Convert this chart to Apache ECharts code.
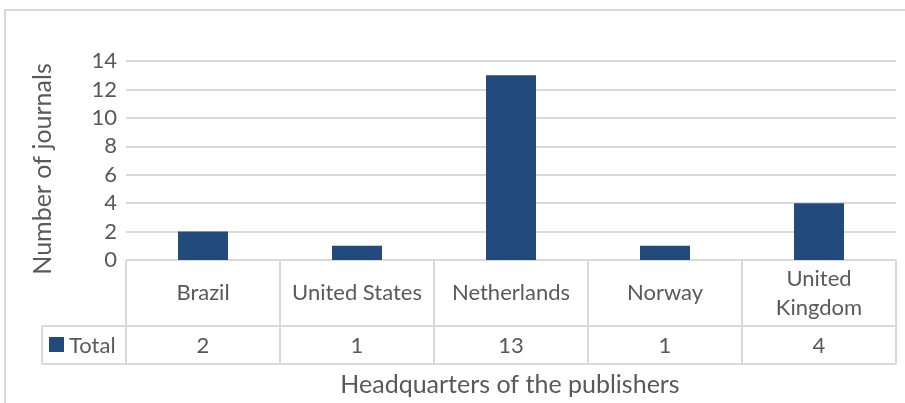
<!DOCTYPE html>
<html>
<head>
<meta charset="utf-8">
<script src="https://cdn.jsdelivr.net/npm/echarts@6/dist/echarts.min.js"></script>
<style>html,body{margin:0;padding:0;background:#fff}#c{width:905px;height:403px}</style>
</head>
<body>
<div id="c"></div>
<script>
const categories = ['Brazil', 'United States', 'Netherlands', 'Norway', 'United Kingdom'];
const totals = [2, 1, 13, 1, 4];
const seriesName = 'Total';
const yTitle = 'Number of journals';
const xTitle = 'Headquarters of the publishers';

const FONT = 'Lato';
const TXT = '#595959';
const LINE = '#d9d9d9';
const BAR = '#224a7c';
const FS = 22;
const TFS = 25;

const chart = echarts.init(document.getElementById('c'), null, {renderer: 'canvas'});
const gridLeft = 126, gridRight = 9, gridTop = 61, gridBottom = 143;

chart.setOption({
  animation: false,
  grid: {left: gridLeft, right: gridRight, top: gridTop, bottom: gridBottom, containLabel: false},
  xAxis: {
    type: 'category',
    data: categories,
    axisLine: {show: false},
    axisTick: {show: false},
    axisLabel: {
      interval: 0, hideOverlap: false,
      margin: 33, padding: [0,0,0,0],
      color: TXT, fontFamily: FONT, fontSize: FS, lineHeight: 29,
      verticalAlign: 'middle',
      formatter: v => v.length > 13 ? v.replace(' ', '\n') : v
    }
  },
  yAxis: {
    type: 'value', min: 0, max: 14, interval: 2,
    axisLine: {show: false}, axisTick: {show: false},
    axisLabel: {color: TXT, fontFamily: FONT, fontSize: FS, margin: 9},
    splitLine: {lineStyle: {color: LINE, width: 2}}
  },
  series: [{
    name: seriesName, type: 'bar', data: totals, barWidth: 50,
    itemStyle: {color: BAR}
  }]
});

function drawTable() {
  const n = categories.length;
  const c0 = chart.convertToPixel({xAxisIndex: 0}, 0);
  const c1 = chart.convertToPixel({xAxisIndex: 0}, 1);
  const bw = c1 - c0;
  const y0 = chart.convertToPixel({yAxisIndex: 0}, 0);
  const rowMid = y0 + 66;
  const rowBot = rowMid + 38;
  const leftX = gridLeft - 84;
  const rightX = c0 - bw / 2 + bw * n;
  const els = [];
  const ls = {stroke: LINE, lineWidth: 2};
  els.push({type: 'rect', shape: {x: 5, y: 10, width: 920, height: 420}, style: {fill: null, stroke: LINE, lineWidth: 2}, silent: true});
  els.push({type: 'line', shape: {x1: gridLeft, y1: y0, x2: rightX, y2: y0}, style: ls});
  els.push({type: 'line', shape: {x1: leftX, y1: rowMid, x2: rightX, y2: rowMid}, style: ls});
  els.push({type: 'line', shape: {x1: leftX, y1: rowBot, x2: rightX, y2: rowBot}, style: ls});
  els.push({type: 'line', shape: {x1: leftX, y1: rowMid, x2: leftX, y2: rowBot}, style: ls});
  for (let i = 0; i <= n; i++) {
    const x = c0 - bw / 2 + bw * i;
    els.push({type: 'line', shape: {x1: x, y1: y0, x2: x, y2: rowBot}, style: ls});
  }
  totals.forEach((v, i) => {
    const x = chart.convertToPixel({xAxisIndex: 0}, i);
    els.push({type: 'text', x: x, y: (rowMid + rowBot) / 2 + 1, style: {text: String(v), fill: TXT, font: FS + 'px ' + FONT, align: 'center', verticalAlign: 'middle'}});
  });
  els.push({type: 'rect', shape: {x: leftX + 7, y: (rowMid + rowBot) / 2 - 8, width: 15, height: 15}, style: {fill: BAR}});
  els.push({type: 'text', x: leftX + 27, y: (rowMid + rowBot) / 2 + 1, style: {text: seriesName, fill: TXT, font: FS + 'px ' + FONT, align: 'left', verticalAlign: 'middle'}});
  els.push({type: 'text', x: 43, y: 169, rotation: Math.PI / 2, style: {text: yTitle, fill: TXT, font: TFS + 'px ' + FONT, align: 'center', verticalAlign: 'middle'}});
  els.push({type: 'text', x: 510, y: 385, style: {text: xTitle, fill: TXT, font: TFS + 'px ' + FONT, align: 'center', verticalAlign: 'middle'}});
  chart.setOption({graphic: els});
}
drawTable();
</script>
</body>
</html>
